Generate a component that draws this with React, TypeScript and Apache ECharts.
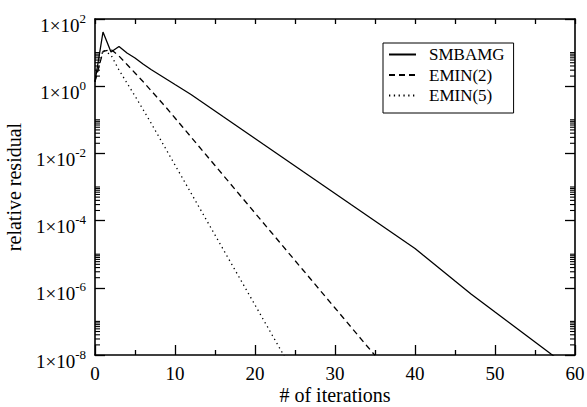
import React, { useEffect, useRef } from "react";
import * as echarts from "echarts";

// relative residual per iteration (index = iteration number)
const smbamg = [
  1.36, 41, 10.4, 15.1, 9.7, 6.9, 4.58, 3.14, 2.23, 1.58,
  1.12, 0.8, 0.566, 0.388, 0.267, 0.183, 0.125, 0.0861, 0.059, 0.0405,
  0.0278, 0.019, 0.0131, 0.00896, 0.00615, 0.00422, 0.00289, 0.00199, 0.00136, 0.000934,
  0.000641, 0.00044, 0.000301, 0.000207, 0.000142, 9.73e-5, 6.67e-5, 4.58e-5, 3.14e-5, 2.15e-5,
  1.48e-5, 9.46e-6, 6.06e-6, 3.88e-6, 2.49e-6, 1.59e-6, 1.02e-6, 6.53e-7, 4.33e-7, 2.87e-7,
  1.9e-7, 1.26e-7, 8.37e-8, 5.55e-8, 3.68e-8, 2.44e-8, 1.62e-8, 1.07e-8, 7.1e-9,
];
const emin2 = [
  1.36, 10.8, 12.4, 7.93, 4.43, 2.47, 1.38, 0.745, 0.402, 0.217,
  0.113, 0.059, 0.0308, 0.016, 0.00837, 0.00436, 0.00228, 0.00119, 0.000619, 0.000323,
  0.000168, 8.78e-5, 4.58e-5, 2.39e-5, 1.24e-5, 6.49e-6, 3.39e-6, 1.77e-6, 9.2e-7, 4.8e-7,
  2.51e-7, 1.31e-7, 6.81e-8, 3.55e-8, 1.85e-8, 9.7e-9,
];
const emin5 = [
  1.36, 11.9, 8.49, 3.03, 1.24, 0.511, 0.203, 0.0804, 0.0308, 0.0118,
  0.00451, 0.00173, 0.000662, 0.000254, 9.73e-5, 3.73e-5, 1.43e-5, 5.47e-6, 2.1e-6, 8.03e-7,
  3.08e-7, 1.18e-7, 4.52e-8, 1.73e-8, 6.63e-9,
];

const seriesNames = ["SMBAMG", "EMIN(2)", "EMIN(5)"];
// y axis in decades (log10 of the residual)
const yMinExp = -8;
const yMaxExp = 2;
const yMajorStep = 2;
const majorExponents = [-8, -6, -4, -2, 0];
const minorMultipliers = [2, 3, 4, 5, 6, 7, 8, 9, 10];

const FONT = "Liberation Serif";

export default function App() {
  const ref = useRef<HTMLDivElement>(null);
  useEffect(() => {
    if (!ref.current) return;
    const chart = echarts.init(ref.current, null, { renderer: "svg" });

    const minorTicks: number[][] = [];
    majorExponents.forEach((e) => {
      minorMultipliers.forEach((m) => {
        const v = Math.log10(m) + e;
        minorTicks.push([0, v]);
        minorTicks.push([60, v]);
      });
    });

    const axisLine = { show: true, onZero: false, lineStyle: { color: "#000", width: 1.6 } };
    const tickStyle = { color: "#000", width: 1.3 };

    const toPairs = (arr: number[]) => arr.map((v, i) => [i, Math.log10(v)]);

    chart.setOption({
      animation: false,
      backgroundColor: "#fff",
      grid: {
        left: 95,
        right: 12,
        top: 19,
        bottom: 52,
        containLabel: false,
        outerBoundsMode: "none",
      },
      legend: {
        data: seriesNames,
        orient: "vertical",
        left: 383,
        top: 43,
        borderColor: "#000",
        borderWidth: 1,
        borderRadius: 0,
        padding: [3, 9, 9, 5],
        itemWidth: 27,
        itemHeight: 14,
        itemGap: 3.5,
        itemStyle: { opacity: 0 },
        textStyle: { fontFamily: FONT, fontSize: 17, color: "#000", padding: [0, 0, 0, 8] },
      },
      xAxis: [
        {
          type: "value",
          position: "bottom",
          min: 0,
          max: 60,
          interval: 10,
          name: "# of iterations",
          nameLocation: "middle",
          nameGap: 30,
          nameMoveOverlap: false,
          nameTextStyle: { fontFamily: FONT, fontSize: 20, lineHeight: 20, color: "#000" },
          axisLine,
          axisTick: { show: true, inside: true, length: 10, lineStyle: tickStyle },
          minorTick: { show: true, splitNumber: 2, length: 5, lineStyle: tickStyle },
          splitLine: { show: false },
          axisLabel: {
            fontFamily: FONT,
            fontSize: 19,
            lineHeight: 16,
            color: "#000",
            margin: 10.5,
          },
        },
        {
          type: "value",
          position: "top",
          min: 0,
          max: 60,
          interval: 5,
          axisLine,
          axisTick: { show: true, inside: true, length: 5, lineStyle: tickStyle },
          splitLine: { show: false },
          axisLabel: { show: false },
        },
      ],
      yAxis: [
        {
          type: "value",
          min: yMinExp,
          max: yMaxExp,
          interval: yMajorStep,
          position: "left",
          name: "relative residual",
          nameLocation: "middle",
          nameGap: 71,
          nameMoveOverlap: false,
          nameTextStyle: { fontFamily: FONT, fontSize: 20, color: "#000" },
          axisLine,
          axisTick: { show: true, inside: true, length: 10, lineStyle: tickStyle },
          splitLine: { show: false },
          axisLabel: {
            margin: 9,
            padding: [12, 0, 0, 0],
            formatter: (v: number) => "{b|1×10}{s|" + Math.round(v) + "}",
            rich: {
              b: { fontFamily: FONT, fontSize: 19, color: "#000" },
              s: { fontFamily: FONT, fontSize: 13, color: "#000", padding: [0, 0, 14, 0] },
            },
          },
        },
        {
          type: "value",
          min: yMinExp,
          max: yMaxExp,
          interval: yMajorStep,
          position: "right",
          axisLine,
          axisTick: { show: true, inside: true, length: 10, lineStyle: tickStyle },
          splitLine: { show: false },
          axisLabel: { show: false },
        },
      ],
      series: [
        {
          name: seriesNames[0],
          type: "line",
          data: toPairs(smbamg),
          symbol: "none",
          lineStyle: { color: "#000", width: 1.3, type: "solid" },
          itemStyle: { color: "#000" },
        },
        {
          name: seriesNames[1],
          type: "line",
          data: toPairs(emin2),
          symbol: "none",
          lineStyle: { color: "#000", width: 1.3, type: [6, 4] },
          itemStyle: { color: "#000" },
        },
        {
          name: seriesNames[2],
          type: "line",
          data: toPairs(emin5),
          symbol: "none",
          lineStyle: { color: "#000", width: 1.3, type: [1.3, 3.5] },
          itemStyle: { color: "#000" },
        },
        {
          type: "custom",
          silent: true,
          clip: false,
          data: minorTicks,
          renderItem: (_params: any, api: any) => {
            const x = api.value(0);
            const y = api.value(1);
            const p = api.coord([x, y]);
            const dir = x === 0 ? 1 : -1;
            return {
              type: "line",
              shape: { x1: p[0], y1: p[1], x2: p[0] + dir * 5, y2: p[1] },
              style: { stroke: "#000", lineWidth: 1.1 },
            };
          },
        },
      ],
    });
    return () => chart.dispose();
  }, []);
  return (
    <div
      ref={ref}
      style={{ position: "fixed", left: 0, top: 0, width: 587, height: 407 }}
    />
  );
}
